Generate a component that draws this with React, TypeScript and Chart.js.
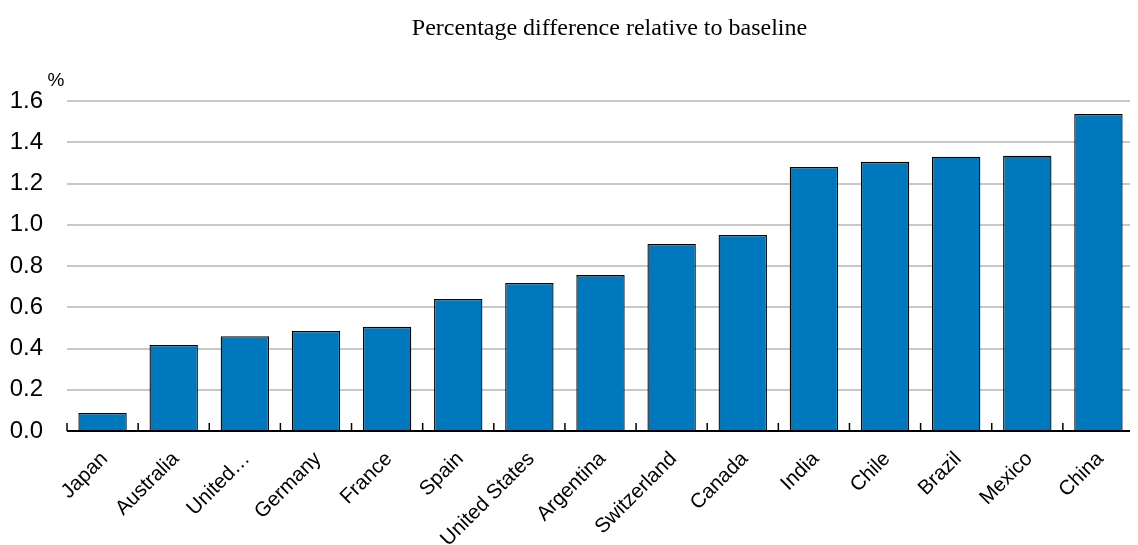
import React, { useEffect, useRef } from "react";
import { Chart, registerables } from "chart.js";

Chart.register(...registerables);

const categories = ["Japan", "Australia", "United…", "Germany", "France", "Spain", "United States", "Argentina", "Switzerland", "Canada", "India", "Chile", "Brazil", "Mexico", "China"];
const values = [0.087, 0.417, 0.46, 0.485, 0.505, 0.64, 0.718, 0.756, 0.907, 0.95, 1.28, 1.305, 1.33, 1.335, 1.537];
const yTicks = [0, 0.2, 0.4, 0.6, 0.8, 1.0, 1.2, 1.4, 1.6];
const titleText = "Percentage difference relative to baseline";
const unitText = "%";

const LABEL_FONT = "'Liberation Sans', Arial, sans-serif";

const decorPlugin = {
  id: "decor",
  afterDraw(chart: any) {
    const ctx = chart.ctx;
    const area = chart.chartArea;
    const xs = chart.scales.x;
    const n = categories.length;
    ctx.save();
    // category boundary ticks pointing up
    ctx.strokeStyle = "#000";
    ctx.lineWidth = 1.5;
    for (let i = 0; i <= n; i++) {
      let x;
      if (i === 0) x = area.left;
      else if (i === n) x = area.right;
      else x = (xs.getPixelForTick(i - 1) + xs.getPixelForTick(i)) / 2;
      ctx.beginPath();
      ctx.moveTo(x, area.bottom);
      ctx.lineTo(x, area.bottom - 8);
      ctx.stroke();
    }
    // axis line
    ctx.lineWidth = 2;
    ctx.beginPath();
    ctx.moveTo(area.left, area.bottom);
    ctx.lineTo(area.right, area.bottom);
    ctx.stroke();
    // title
    ctx.fillStyle = "#000";
    ctx.font = "24px 'Liberation Serif', 'Times New Roman', serif";
    ctx.textAlign = "center";
    ctx.textBaseline = "alphabetic";
    ctx.fillText(titleText, (area.left + area.right) / 2 + 9, 35);
    // unit
    ctx.font = "19px " + LABEL_FONT;
    ctx.textAlign = "center";
    ctx.textBaseline = "middle";
    ctx.fillText(unitText, area.left - 11, area.top - 20);
    ctx.restore();
  },
};

export default function App() {
  const ref = useRef<HTMLCanvasElement | null>(null);
  useEffect(() => {
    if (!ref.current) return;
    const chart = new Chart(ref.current, {
      type: "bar",
      data: {
        labels: categories,
        datasets: [
          {
            data: values,
            backgroundColor: "#0078BE",
            borderColor: "#000",
            borderWidth: 1.3,
            barPercentage: 0.68,
            categoryPercentage: 1,
          },
        ],
      },
      options: {
        responsive: false,
        animation: false,
        layout: { padding: { top: 101, right: 4, left: 0, bottom: 0 } },
        plugins: {
          legend: { display: false },
          tooltip: { enabled: false },
          title: { display: false },
        },
        scales: {
          x: {
            grid: { display: false },
            border: { display: false },
            ticks: {
              color: "#000",
              font: { family: LABEL_FONT, size: 20.5 },
              maxRotation: 45,
              minRotation: 45,
              autoSkip: false,
              padding: 8,
              labelOffset: 2,
            },
            afterFit(scale: any) {
              scale.height = 114;
            },
          },
          y: {
            min: 0,
            max: 1.6,
            afterBuildTicks(scale: any) {
              scale.ticks = yTicks.map((v) => ({ value: v }));
            },
            grid: { color: "#c8c8c8", lineWidth: 2, drawTicks: false },
            border: { display: false },
            ticks: {
              color: "#000",
              font: { family: LABEL_FONT, size: 24 },
              padding: 24,
              callback: (v: any) => Number(v).toFixed(1),
            },
            afterFit(scale: any) {
              scale.width = 67;
            },
          },
        },
      },
      plugins: [decorPlugin],
    });
    return () => chart.destroy();
  }, []);
  return (
    <div style={{ position: "relative", marginLeft: -8, marginTop: -8, width: 1138, height: 545 }}>
      <canvas ref={ref} width={1138} height={545} style={{ display: "block" }} />
    </div>
  );
}
